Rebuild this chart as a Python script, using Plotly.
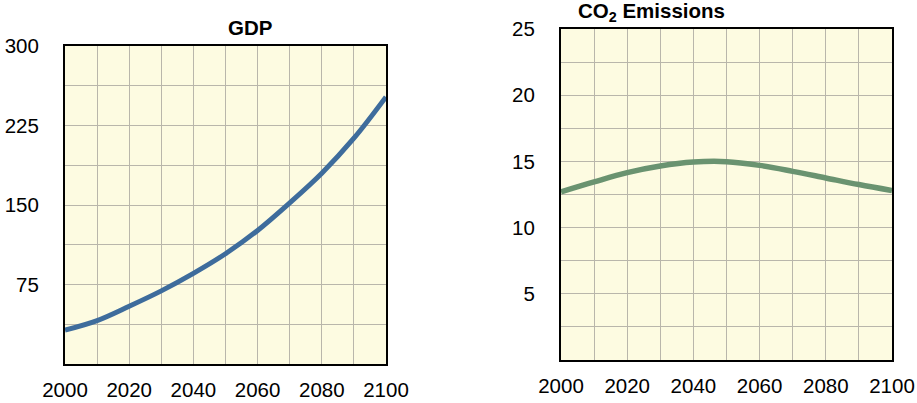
import plotly.graph_objects as go

years = [2000, 2010, 2020, 2030, 2040, 2050, 2060, 2070, 2080, 2090, 2100]
gdp = [32, 41, 54.5, 69, 85.5, 104, 126, 152, 180, 213, 252]
co2 = [12.7, 13.45, 14.15, 14.65, 14.95, 14.98, 14.7, 14.25, 13.75, 13.25, 12.8]

x_ticks = [2000, 2020, 2040, 2060, 2080, 2100]
gdp_ticks = [75, 150, 225, 300]
co2_ticks = [5, 10, 15, 20, 25]

W, H = 917, 403
BG = "#fdfbe1"
GRID = "#b9b6ab"
FONT = "Liberation Sans, Arial, Helvetica, sans-serif"
TICK_SIZE = 20.5
TITLE_SIZE = 20.5

fig = go.Figure()
fig.add_trace(go.Scatter(x=years, y=gdp, mode="lines", line=dict(color="#3e6c9c", width=5, shape="spline"),
                         xaxis="x", yaxis="y", showlegend=False, hoverinfo="skip"))
fig.add_trace(go.Scatter(x=years, y=co2, mode="lines", line=dict(color="#6a9370", width=5.5, shape="spline"),
                         xaxis="x2", yaxis="y2", showlegend=False, hoverinfo="skip"))

def xax(domain, anchor):
    return dict(domain=domain, anchor=anchor, range=[2000, 2100], tickvals=x_ticks,
                automargin=False,
                showgrid=True, gridcolor=GRID, gridwidth=1,
                minor=dict(dtick=10, tick0=2000, showgrid=True, gridcolor=GRID, gridwidth=1),
                showline=True, linecolor="black", linewidth=2, mirror=True,
                ticks="", ticklabelstandoff=6, zeroline=False,
                tickfont=dict(size=TICK_SIZE, color="black", family=FONT))

def yax(domain, anchor, rng, tv, minor_dt):
    return dict(domain=domain, anchor=anchor, range=rng, tickvals=tv,
                automargin=False,
                showgrid=True, gridcolor=GRID, gridwidth=1,
                minor=dict(dtick=minor_dt, tick0=0, showgrid=True, gridcolor=GRID, gridwidth=1),
                showline=True, linecolor="black", linewidth=2, mirror=True,
                ticks="", ticklabelstandoff=20, zeroline=False,
                tickfont=dict(size=TICK_SIZE, color="black", family=FONT))

fig.update_layout(
    template="none",
    width=W, height=H,
    margin=dict(l=0, r=0, t=0, b=0, pad=0),
    paper_bgcolor="white", plot_bgcolor=BG,
    font=dict(family=FONT, color="black"),
    xaxis=xax([65 / W, 386 / W], "y"),
    yaxis=yax([1 - 364 / H, 1 - 46 / H], "x", [0, 300], gdp_ticks, 37.5),
    xaxis2=xax([561 / W, 892 / W], "y2"),
    yaxis2=yax([1 - 360 / H, 1 - 29 / H], "x2", [0, 25], co2_ticks, 2.5),
    annotations=[
        dict(text="<b>GDP</b>", x=(65 + 386) / 2 / W, y=1 - 28 / H, xref="paper", yref="paper",
             showarrow=False, font=dict(size=TITLE_SIZE, family=FONT, color="black"), yanchor="middle"),
        dict(text="<b>CO<sub>2</sub> Emissions</b>", x=(561 + 892) / 2 / W, y=1 - 12 / H, xref="paper", yref="paper",
             showarrow=False, font=dict(size=TITLE_SIZE, family=FONT, color="black"), yanchor="middle"),
    ],
)

fig.write_html("out.html", config={"displayModeBar": False},
               post_script="document.body.style.margin='0';document.body.style.padding='0';")
